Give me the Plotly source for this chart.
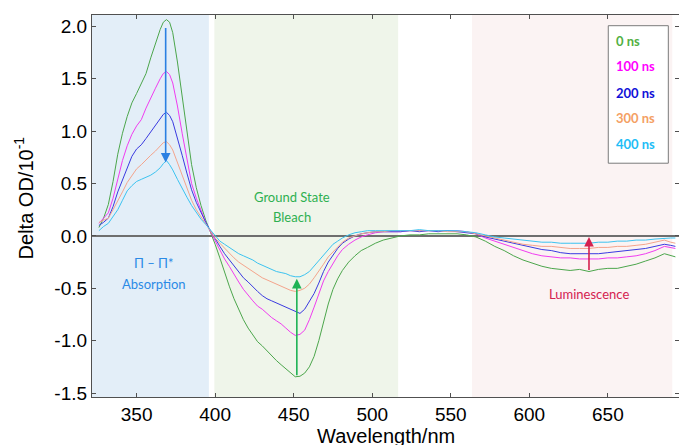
import plotly.graph_objects as go

wavelength = [326, 329, 332, 335, 338, 341, 344, 347, 350, 353, 356, 359, 362, 365, 367, 369, 371, 373, 376, 379,
              382, 385, 388, 391, 394, 397, 400, 403, 406, 409, 412, 415, 418, 421, 424, 427, 430, 433, 436, 439,
              442, 445, 448, 451, 454, 457, 460, 463, 466, 469, 472, 475, 478, 481, 485, 489, 493, 497, 502, 507,
              512, 518, 524, 530, 536, 542, 548, 554, 560, 566, 572, 578, 584, 590, 596, 602, 608, 614, 620, 626,
              632, 638, 644, 650, 656, 662, 668, 674, 680, 686, 690, 693]

ns0 = [0.08, 0.17, 0.30, 0.52, 0.78, 0.98, 1.14, 1.27, 1.36, 1.45, 1.55, 1.70, 1.84, 1.97, 2.04, 2.065, 2.04, 1.94, 1.66, 1.33,
       0.98, 0.68, 0.46, 0.29, 0.15, 0.04, -0.08, -0.21, -0.35, -0.48, -0.60, -0.70, -0.80, -0.88, -0.95, -1.01, -1.05, -1.10, -1.14, -1.19,
       -1.23, -1.27, -1.31, -1.345, -1.34, -1.31, -1.25, -1.15, -1.00, -0.83, -0.65, -0.51, -0.41, -0.33, -0.25, -0.19, -0.14, -0.11, -0.07, -0.04,
       -0.02, 0.00, 0.01, 0.01, 0.02, 0.02, 0.02, 0.02, 0.01, -0.01, -0.05, -0.10, -0.14, -0.19, -0.23, -0.26, -0.29, -0.31, -0.32, -0.33,
       -0.32, -0.34, -0.32, -0.31, -0.31, -0.29, -0.27, -0.24, -0.21, -0.17, -0.19, -0.20]

ns100 = [0.12, 0.17, 0.22, 0.36, 0.55, 0.72, 0.86, 0.97, 1.05, 1.11, 1.22, 1.32, 1.41, 1.50, 1.55, 1.57, 1.54, 1.46, 1.24, 0.98,
         0.72, 0.50, 0.36, 0.24, 0.13, 0.04, -0.05, -0.14, -0.22, -0.29, -0.37, -0.44, -0.51, -0.57, -0.62, -0.67, -0.70, -0.74, -0.78, -0.81,
         -0.84, -0.88, -0.92, -0.95, -0.94, -0.90, -0.80, -0.68, -0.56, -0.43, -0.34, -0.26, -0.19, -0.13, -0.08, -0.04, -0.01, 0.01, 0.03, 0.04,
         0.04, 0.04, 0.05, 0.05, 0.05, 0.05, 0.05, 0.05, 0.04, 0.02, -0.02, -0.05, -0.08, -0.11, -0.14, -0.17, -0.19, -0.20, -0.21, -0.21,
         -0.22, -0.22, -0.22, -0.21, -0.21, -0.20, -0.19, -0.17, -0.14, -0.10, -0.11, -0.12]

ns200 = [0.10, 0.13, 0.17, 0.28, 0.42, 0.54, 0.66, 0.76, 0.83, 0.87, 0.93, 0.99, 1.06, 1.12, 1.16, 1.18, 1.15, 1.09, 0.94, 0.77,
         0.60, 0.44, 0.32, 0.22, 0.13, 0.05, -0.03, -0.10, -0.17, -0.23, -0.29, -0.35, -0.40, -0.44, -0.49, -0.53, -0.57, -0.60, -0.62, -0.64,
         -0.66, -0.68, -0.70, -0.72, -0.74, -0.70, -0.63, -0.55, -0.45, -0.34, -0.25, -0.18, -0.12, -0.07, -0.03, 0.00, 0.02, 0.03, 0.04, 0.04,
         0.04, 0.04, 0.05, 0.04, 0.05, 0.04, 0.05, 0.04, 0.03, 0.02, -0.01, -0.03, -0.05, -0.07, -0.09, -0.11, -0.13, -0.14, -0.16, -0.17,
         -0.17, -0.17, -0.17, -0.16, -0.15, -0.14, -0.13, -0.12, -0.10, -0.08, -0.09, -0.10]

ns300 = [0.13, 0.15, 0.17, 0.25, 0.33, 0.42, 0.51, 0.58, 0.64, 0.68, 0.73, 0.77, 0.81, 0.86, 0.89, 0.90, 0.87, 0.82, 0.70, 0.58,
         0.46, 0.34, 0.25, 0.18, 0.11, 0.05, -0.02, -0.07, -0.12, -0.17, -0.21, -0.25, -0.28, -0.31, -0.34, -0.37, -0.40, -0.42, -0.44, -0.46,
         -0.48, -0.50, -0.52, -0.53, -0.52, -0.50, -0.46, -0.40, -0.34, -0.27, -0.20, -0.15, -0.10, -0.06, -0.02, 0.00, 0.02, 0.03, 0.04, 0.04,
         0.05, 0.05, 0.05, 0.05, 0.05, 0.05, 0.04, 0.04, 0.04, 0.02, 0.00, -0.02, -0.04, -0.06, -0.08, -0.09, -0.10, -0.10, -0.11, -0.12,
         -0.12, -0.12, -0.11, -0.11, -0.10, -0.10, -0.09, -0.08, -0.06, -0.04, -0.06, -0.07]

ns400 = [0.05, 0.09, 0.12, 0.19, 0.25, 0.34, 0.43, 0.48, 0.52, 0.54, 0.56, 0.58, 0.61, 0.65, 0.69, 0.72, 0.68, 0.63, 0.54, 0.45,
         0.37, 0.29, 0.22, 0.16, 0.11, 0.06, 0.00, -0.05, -0.08, -0.11, -0.14, -0.17, -0.19, -0.21, -0.23, -0.26, -0.28, -0.30, -0.32, -0.34,
         -0.35, -0.36, -0.38, -0.39, -0.39, -0.37, -0.34, -0.29, -0.24, -0.18, -0.13, -0.08, -0.05, -0.02, 0.01, 0.03, 0.04, 0.05, 0.05, 0.05,
         0.05, 0.05, 0.05, 0.06, 0.05, 0.05, 0.05, 0.05, 0.04, 0.03, 0.01, -0.01, -0.02, -0.03, -0.04, -0.05, -0.06, -0.06, -0.07, -0.07,
         -0.07, -0.07, -0.06, -0.06, -0.05, -0.05, -0.04, -0.04, -0.03, -0.02, -0.02, -0.02]

series_names = ["0 ns", "100 ns", "200 ns", "300 ns", "400 ns"]
series_values = [ns0, ns100, ns200, ns300, ns400]
line_colors = ["#4ca64c", "#f03cf0", "#3a3ae0", "#f4a48c", "#3cc3f0"]
label_colors = ["#52b043", "#ff00ff", "#1010d8", "#f4a064", "#1ebdf6"]

x_ticks = [350, 400, 450, 500, 550, 600, 650]
y_ticks = [-1.5, -1.0, -0.5, 0.0, 0.5, 1.0, 1.5, 2.0]
x_title = "Wavelength/nm"
y_title = "Delta OD/10<sup>-1</sup>"

fig = go.Figure()
for name, vals, col in zip(series_names, series_values, line_colors):
    fig.add_trace(go.Scatter(x=wavelength, y=vals, mode="lines", name=name,
                             line=dict(color=col, width=1), showlegend=False))

# shaded regions
regions = [(321.6, 396.0, "#e3eef8"), (399.5, 516.5, "#eff5ea"), (563.5, 691.0, "#fbf3f3")]
for x0, x1, c in regions:
    fig.add_shape(type="rect", xref="x", yref="paper", x0=x0, x1=x1, y0=0, y1=1,
                  fillcolor=c, line=dict(width=0), layer="below")

axis_col = "#505050"
tick_font = dict(family="Liberation Sans, Arial", size=19, color="#000")
fig.update_xaxes(range=[321.6, 695.3], tickvals=x_ticks, ticktext=[str(v) for v in x_ticks],
                 showgrid=False, zeroline=False, showline=True, linecolor=axis_col, linewidth=1.2,
                 mirror="ticks", ticks="inside", ticklen=4, tickcolor=axis_col,
                 tickfont=tick_font, automargin=False)
fig.update_yaxes(range=[-1.538, 2.109], tickvals=y_ticks, ticktext=[f"{v:.1f}" for v in y_ticks],
                 showgrid=False, zeroline=True, zerolinecolor="#6e6e6e", zerolinewidth=1.5,
                 showline=True, linecolor=axis_col, linewidth=1.2,
                 mirror="ticks", ticks="inside", ticklen=4, tickcolor=axis_col,
                 tickfont=tick_font, automargin=False)

ann_font = "Lato, Open Sans, sans-serif"
annotations = []
# axis titles
annotations.append(dict(x=0.5016, y=-0.102, xref="paper", yref="paper", xanchor="center", yanchor="middle",
                        text=x_title, showarrow=False,
                        font=dict(family="Liberation Sans, Arial", size=20, color="#000")))
annotations.append(dict(x=-0.1151, y=0.521, xref="paper", yref="paper", xanchor="center", yanchor="middle",
                        text=y_title, showarrow=False, textangle=-90,
                        font=dict(family="Liberation Sans, Arial", size=20, color="#000")))
# arrows
arrows = [(368.5, 2.0, 0.70, "#2b80e2"), (452.0, -1.345, -0.41, "#1fb356"), (638.0, -0.34, -0.01, "#d4224f")]
for xa, y_from, y_to, c in arrows:
    annotations.append(dict(x=xa, y=y_to, ax=xa, ay=y_from, xref="x", yref="y", axref="x", ayref="y",
                            showarrow=True, arrowhead=2, arrowsize=1.2, arrowwidth=1.6, arrowcolor=c, text=""))
# region labels
labels = [("\u03a0 \u2013 \u03a0*", 361, -0.26, "#2b8ae6"), ("Absorption", 361, -0.46, "#2b8ae6"),
          ("Ground State", 449, 0.376, "#2db050"), ("Bleach", 449, 0.179, "#2db050"),
          ("Luminescence", 638, -0.55, "#d4224f")]
for t, xx, yy, c in labels:
    annotations.append(dict(x=xx, y=yy, xref="x", yref="y", text=t, showarrow=False,
                            font=dict(family=ann_font, size=13, color=c)))

# legend box
fig.add_shape(type="rect", xref="paper", yref="paper", x0=0.8795, x1=0.9818, y0=0.612, y1=0.972,
              fillcolor="white", line=dict(color="#7a7a7a", width=1), layer="above")
leg_y = [0.9308, 0.8653, 0.7971, 0.7300, 0.6618]
for name, c, yy in zip(series_names, label_colors, leg_y):
    annotations.append(dict(x=0.8897, y=yy, xref="paper", yref="paper", xanchor="left", yanchor="middle",
                            text="<b>" + name + "</b>", showarrow=False,
                            font=dict(family=ann_font, size=13, color=c)))

fig.update_layout(width=679, height=445, margin=dict(l=92, r=0, t=15, b=48),
                  plot_bgcolor="white", paper_bgcolor="white", annotations=annotations)

fig.write_html("out.html", config={"displayModeBar": False},
               post_script="document.body.style.margin='0';document.body.style.overflow='hidden';")
